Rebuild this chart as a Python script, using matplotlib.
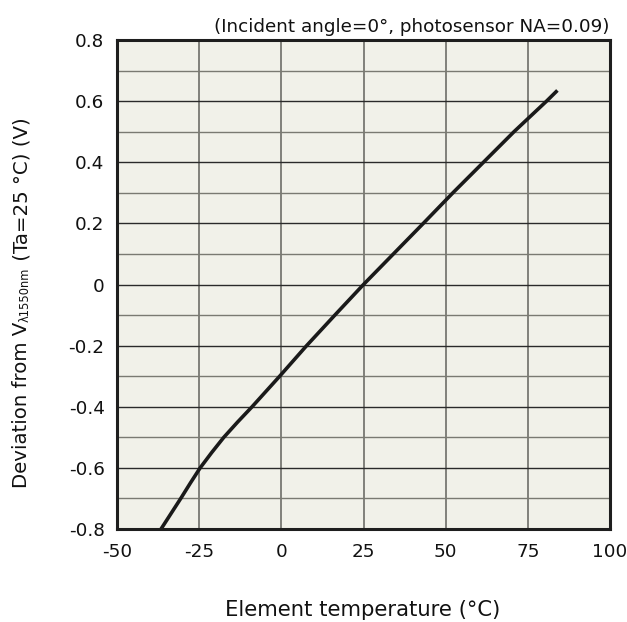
import matplotlib
matplotlib.use("Agg")
import matplotlib.pyplot as plt
from matplotlib.ticker import MultipleLocator

# readings (element temperature in degC, deviation in V)
temp = [-36.6, -33.6, -30.6, -27.7, -24.7, -21.2, -17.5, -13.3, -8.9, -4.7,
        -0.5, 7.7, 16.3, 25.0, 34.1, 43.2, 52.2, 61.5, 70.8, 80.7, 84.0]
dev = [-0.8, -0.75, -0.7, -0.65, -0.6, -0.55, -0.5, -0.45, -0.4, -0.35,
       -0.3, -0.2, -0.1, 0.0, 0.1, 0.2, 0.3, 0.4, 0.5, 0.6, 0.635]

x_ticks = [-50, -25, 0, 25, 50, 75, 100]
x_labels = ["-50", "-25", "0", "25", "50", "75", "100"]
y_ticks = [-0.8, -0.6, -0.4, -0.2, 0, 0.2, 0.4, 0.6, 0.8]
y_labels = ["-0.8", "-0.6", "-0.4", "-0.2", "0", "0.2", "0.4", "0.6", "0.8"]

W, H = 627, 622
plt.rcParams['font.family'] = ['DejaVu Sans']

fig = plt.figure(figsize=(W / 100, H / 100), dpi=100)
ax = fig.add_axes([117 / W, 1 - 529 / H, 493 / W, 489 / H])
ax.set_facecolor('#f1f1e9')

ax.set_xlim(-50, 100)
ax.set_ylim(-0.8, 0.8)
ax.set_xticks(x_ticks)
ax.set_xticklabels(x_labels)
ax.set_yticks(y_ticks)
ax.set_yticklabels(y_labels)
ax.yaxis.set_minor_locator(MultipleLocator(0.1))

ax.grid(True, which='major', axis='y', color='#2a2a2a', lw=1.0)
ax.grid(True, which='minor', axis='y', color='#7a7a72', lw=1.0)
ax.grid(True, which='major', axis='x', color='#6e6e68', lw=1.2)
ax.set_axisbelow(True)

ax.tick_params(which='both', length=0, labelsize=13.2, colors='#111111')
ax.tick_params(axis='y', pad=9)
ax.tick_params(axis='x', pad=10)

for s in ax.spines.values():
    s.set_linewidth(2.2)
    s.set_color('#1e1e1e')

ax.plot(temp, dev, color='#1a1a1a', lw=2.6, solid_joinstyle='round',
        solid_capstyle='butt')

# x label and note, placed in pixels
fig.text(363 / W, 1 - 616 / H, "Element temperature (°C)", ha='center',
         va='baseline', fontsize=15.2, color='#111111')
fig.text(609 / W, 1 - 32 / H, "(Incident angle=0°, photosensor NA=0.09)",
         ha='right', va='baseline', fontsize=13.2, color='#111111')

# y label built from three rotated pieces so the subscript can be small
renderer = fig.canvas.get_renderer()
pieces = [("Deviation from V", 14.2, 0), ("λ1550nm", 8.3, 2), (" (Ta=25 °C) (V)", 14.2, 0)]
y_px = 488
for txt, size, shift in pieces:
    t = fig.text((27 + shift) / W, 1 - y_px / H, txt, rotation=90,
                 rotation_mode='anchor', ha='left', va='baseline',
                 fontsize=size, color='#111111')
    y_px -= t.get_window_extent(renderer).height

fig.savefig("out.png", dpi=100)
